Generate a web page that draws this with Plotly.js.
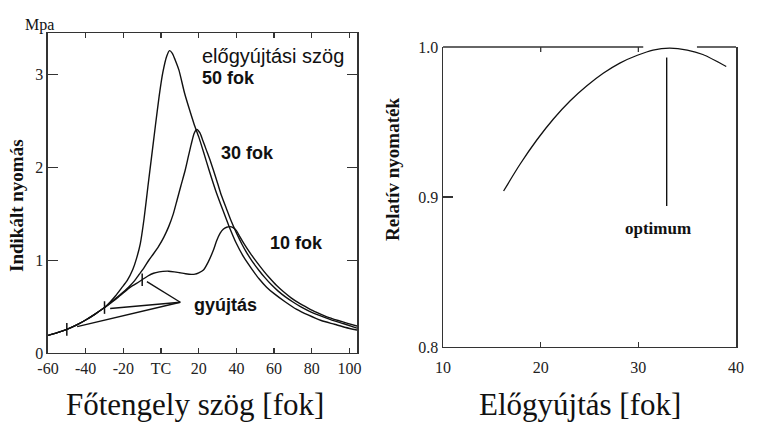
<!DOCTYPE html>
<html>
<head>
<meta charset="utf-8">
<script src="https://cdn.plot.ly/plotly-3.0.1.min.js"></script>
<style>html,body{margin:0;padding:0;background:#fff;}#chart{width:784px;height:439px;}</style>
</head>
<body>
<div id="chart"></div>
<script>
// ---- Left chart: indicated pressure vs crank angle ----
const angle50 = [-60,-55,-50,-45,-40,-35,-30,-27,-24,-21,-18,-15,-13,-11,-9,-7,-5,-3,-1,1,3,4.5,6,7.5,9.5,12.5,15,17.5,20,22.5,25.5,29,33,36,40,44,48,52,56,60,66,72,78,85,92,98,104];
const p50 = [0.19,0.22,0.255,0.30,0.356,0.42,0.49,0.55,0.62,0.70,0.78,0.90,1.02,1.18,1.45,1.79,2.12,2.45,2.77,3.03,3.20,3.26,3.23,3.16,3.05,2.80,2.63,2.47,2.33,2.17,1.97,1.75,1.53,1.37,1.18,1.03,0.91,0.80,0.71,0.64,0.55,0.47,0.41,0.35,0.31,0.275,0.247];

const angle30 = [-60,-55,-50,-45,-40,-35,-30,-27,-24,-21,-17,-14,-11.5,-9,-6.5,-4,-1.3,1.5,4,6.5,8.5,10.5,12.8,14.5,16,17.6,19,20.7,22,24,26,27.8,30,32,35,37,40,43,45.5,48.5,52,55,58.6,62,66,70,74,78.8,84,90,97,104];
const p30 = [0.19,0.22,0.255,0.30,0.356,0.42,0.49,0.54,0.59,0.64,0.715,0.78,0.85,0.92,1.0,1.07,1.15,1.25,1.36,1.50,1.65,1.80,1.97,2.12,2.25,2.37,2.41,2.37,2.30,2.19,2.08,1.97,1.83,1.70,1.54,1.435,1.295,1.17,1.08,0.985,0.89,0.815,0.735,0.67,0.605,0.55,0.50,0.45,0.405,0.36,0.315,0.268];

const angle10 = [-60,-55,-50,-45,-40,-35,-30,-27,-24,-21,-17,-13,-10,-7,-4,-1,1,4,7,10,13,16,18,20,22.5,25,27.8,29.5,31.3,33,34.8,36.5,38,40,41.8,44,47.5,51,54.5,57.5,61.2,65,69,73.5,78,82.3,88,94,99,104];
const p10 = [0.19,0.22,0.255,0.30,0.356,0.42,0.49,0.535,0.58,0.63,0.70,0.75,0.79,0.83,0.86,0.875,0.88,0.882,0.875,0.865,0.855,0.848,0.85,0.865,0.895,0.98,1.11,1.21,1.29,1.335,1.356,1.362,1.355,1.32,1.255,1.18,1.072,0.974,0.883,0.811,0.73,0.66,0.595,0.535,0.485,0.44,0.39,0.35,0.32,0.29];

// ignition points (gyújtás)
const ignAngle = [-50, -30, -10];
const ignPressure = [0.255, 0.49, 0.79];
// pointer lines from "gyújtás" label
const pointerApex = [10.2, 0.547];
const pointerEndX = [-7.5, -27, -44.5];
const pointerEndY = [0.77, 0.48, 0.285];

const xTickVals1 = [-60,-40,-20,0,20,40,60,80,100];
const xTickText1 = ['-60','-40','-20','TC','20','40','60','80','100'];
const yTickVals1 = [0,1,2,3];

// ---- Right chart: relative torque vs ignition advance ----
const advance = [16.2,17.9,19.6,21.3,23.0,24.7,26.4,28.1,29.9,31.5,33.2,35.0,36.6,39.0];
const relTorque = [0.904,0.922,0.938,0.952,0.964,0.974,0.9825,0.9893,0.9945,0.998,0.9993,0.998,0.995,0.987];
const optimumX = [32.9, 32.9];
const optimumY = [0.894, 0.993];
const xTickVals2 = [10,20,30,40];
const yTickVals2 = [0.8,0.9,1.0];
const yTickText2 = ['0.8','0.9','1.0'];
const topGapStart = 30.5, topGapEnd = 36;   // where the curve touches the top frame

const SERIF = '"Liberation Serif","Times New Roman",serif';
const SANS = '"Liberation Sans",Arial,sans-serif';
const INK = '#111';
const AX = '#333';

const lineStyle = {color: INK, width: 1.4, shape: 'spline', smoothing: 0.6};

const traces = [
  {x: angle50, y: p50, mode: 'lines', line: lineStyle, xaxis: 'x', yaxis: 'y', hoverinfo: 'skip'},
  {x: angle30, y: p30, mode: 'lines', line: lineStyle, xaxis: 'x', yaxis: 'y', hoverinfo: 'skip'},
  {x: angle10, y: p10, mode: 'lines', line: lineStyle, xaxis: 'x', yaxis: 'y', hoverinfo: 'skip'},
  {x: ignAngle, y: ignPressure, mode: 'markers', xaxis: 'x', yaxis: 'y',
   marker: {symbol: 'line-ns', size: 9, line: {color: INK, width: 1.5}}, hoverinfo: 'skip'},
  {x: advance, y: relTorque, mode: 'lines', line: {color: INK, width: 1.3, shape: 'spline', smoothing: 0.8},
   xaxis: 'x2', yaxis: 'y2', hoverinfo: 'skip'},
  {x: optimumX, y: optimumY, mode: 'lines', line: {color: INK, width: 1.4}, xaxis: 'x2', yaxis: 'y2', hoverinfo: 'skip'}
];

const shapes = [];
for (let i = 0; i < pointerEndX.length; i++) {
  shapes.push({type: 'line', xref: 'x', yref: 'y', x0: pointerApex[0], y0: pointerApex[1],
    x1: pointerEndX[i], y1: pointerEndY[i], line: {color: INK, width: 1.4}});
}
// right chart top frame, interrupted where the curve touches it
shapes.push({type: 'line', xref: 'x2', yref: 'y2 domain', x0: xTickVals2[0], x1: topGapStart, y0: 1, y1: 1, line: {color: AX, width: 1.5}});
shapes.push({type: 'line', xref: 'x2', yref: 'y2 domain', x0: topGapEnd, x1: xTickVals2[xTickVals2.length - 1], y0: 1, y1: 1, line: {color: AX, width: 1.5}});
// top ticks of right chart
for (let i = 1; i < xTickVals2.length - 1; i++) {
  shapes.push({type: 'line', xref: 'x2', yref: 'y2 domain', ysizemode: 'pixel', yanchor: 1,
    x0: xTickVals2[i], x1: xTickVals2[i], y0: 0, y1: -5, line: {color: AX, width: 1.3}});
}

function ann(text, x, y, font, extra) {
  return Object.assign({text: text, x: x, y: y, xref: 'paper', yref: 'paper', showarrow: false,
    xanchor: 'left', yanchor: 'middle', font: font}, extra || {});
}

const annotations = [
  ann('előgyújtási szög', 0.2551, 0.8724, {family: SANS, size: 20, color: INK}),
  ann('<b>50 fok</b>', 0.2551, 0.8223, {family: SANS, size: 18, color: INK}),
  ann('<b>30 fok</b>', 0.2793, 0.6515, {family: SANS, size: 18, color: INK}),
  ann('<b>10 fok</b>', 0.3418, 0.4465, {family: SANS, size: 18, color: INK}),
  ann('<b>gyújtás</b>', 0.2449, 0.3052, {family: SANS, size: 18, color: INK}),
  ann('Mpa', 0.0510, 0.942, {family: SERIF, size: 16, color: INK}, {xanchor: 'center'}),
  ann('<b>Indikált nyomás</b>', 0.0217, 0.5308, {family: SERIF, size: 19, color: INK}, {xanchor: 'center', textangle: -90}),
  ann('<b>Relatív nyomaték</b>', 0.5013, 0.6128, {family: SERIF, size: 19, color: INK}, {xanchor: 'center', textangle: -90}),
  ann('<b>optimum</b>', 0.8393, 0.4806, {family: SERIF, size: 17, color: INK}, {xanchor: 'center'}),
  ann('Főtengely szög [fok]', 0.2487, 0.0797, {family: SERIF, size: 31, color: INK}, {xanchor: 'center'}),
  ann('Előgyújtás [fok]', 0.7398, 0.0797, {family: SERIF, size: 31, color: INK}, {xanchor: 'center'})
];

const tickFont = {family: SERIF, size: 16, color: '#222'};

const layout = {
  width: 784, height: 439,
  margin: {l: 0, r: 0, t: 0, b: 0},
  paper_bgcolor: '#fff', plot_bgcolor: '#fff',
  showlegend: false,
  xaxis: {domain: [0.0612, 0.4554], range: [-60, 104], anchor: 'y',
    tickmode: 'array', tickvals: xTickVals1, ticktext: xTickText1,
    ticks: 'inside', ticklen: 5, tickwidth: 1.3, tickcolor: AX,
    showline: true, linecolor: AX, linewidth: 1.5, mirror: 'ticks',
    showgrid: false, zeroline: false, tickfont: tickFont, fixedrange: true},
  yaxis: {domain: [0.1959, 0.9248], range: [0, 3.45], anchor: 'x',
    tickmode: 'array', tickvals: yTickVals1,
    ticks: 'inside', ticklen: 10, tickwidth: 1.3, tickcolor: AX,
    showline: true, linecolor: AX, linewidth: 1.5, mirror: 'ticks',
    showgrid: false, zeroline: false, tickfont: tickFont, fixedrange: true},
  xaxis2: {domain: [0.5651, 0.9388], range: [10, 40], anchor: 'y2',
    tickmode: 'array', tickvals: xTickVals2,
    ticks: 'inside', ticklen: 5, tickwidth: 1.3, tickcolor: AX,
    showline: true, linecolor: AX, linewidth: 1.5, mirror: false,
    ticklabelstandoff: 5,
    showgrid: false, zeroline: false, tickfont: tickFont, fixedrange: true},
  yaxis2: {domain: [0.2096, 0.8929], range: [0.8, 1.0], anchor: 'x2',
    tickmode: 'array', tickvals: yTickVals2, ticktext: yTickText2,
    ticks: 'inside', ticklen: 10, tickwidth: 1.3, tickcolor: AX,
    showline: true, linecolor: AX, linewidth: 1.5, mirror: true,
    showgrid: false, zeroline: false, tickfont: tickFont, fixedrange: true},
  shapes: shapes,
  annotations: annotations
};

Plotly.newPlot('chart', traces, layout, {displayModeBar: false, staticPlot: true});
</script>
</body>
</html>
